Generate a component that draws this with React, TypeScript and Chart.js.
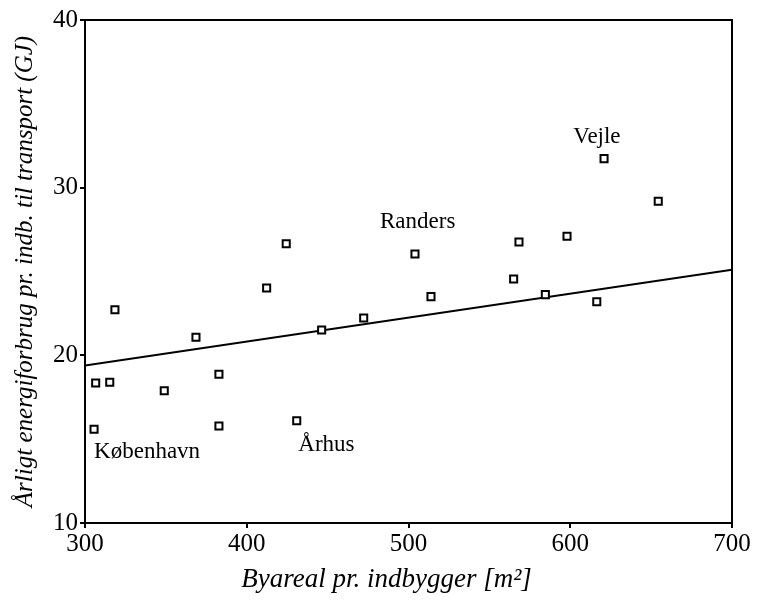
import React, { useEffect, useRef } from "react";
import { Chart, registerables } from "chart.js";

Chart.register(...registerables);

// Observations: byareal pr. indbygger (m²) vs. årligt energiforbrug (GJ)
const xValues = [306.6, 315.3, 318.5, 305.6, 349.0, 368.6, 382.8, 382.8, 412.3, 424.4, 430.9, 446.3, 472.3, 504.0, 513.9, 565.0, 568.3, 584.6, 598.0, 616.4, 620.9, 654.4];
const yValues = [18.35, 18.39, 22.72, 15.59, 17.89, 21.08, 18.87, 15.79, 24.02, 26.66, 16.10, 21.51, 22.23, 26.04, 23.50, 24.55, 26.76, 23.62, 27.10, 23.20, 31.73, 29.19];

// Regression line end points
const trendX = [300, 700];
const trendY = [19.4, 25.1];

// Axis ticks
const xTicks = [300, 400, 500, 600, 700];
const yTicks = [10, 20, 30, 40];

// City labels (anchored in data units: left edge, baseline)
const cityNames = ["København", "Århus", "Randers", "Vejle"];
const cityX = [305.6, 431.9, 482.4, 601.9];
const cityY = [13.88, 14.29, 27.6, 32.66];

const xTitle = "Byareal pr. indbygger [m²]";
const yTitle = "Årligt energiforbrug pr. indb. til transport (GJ)";

const FONT = "'Liberation Serif', 'Times New Roman', serif";

const framePlugin = {
  id: "frame",
  afterDatasetsDraw(chart: any) {
    const { ctx, chartArea } = chart;
    ctx.save();
    ctx.strokeStyle = "#000";
    ctx.lineWidth = 2;
    ctx.beginPath();
    ctx.moveTo(chartArea.left, chartArea.top);
    ctx.lineTo(chartArea.right, chartArea.top);
    ctx.lineTo(chartArea.right, chartArea.bottom);
    ctx.stroke();
    ctx.restore();
  },
};

const labelPlugin = {
  id: "cityLabels",
  afterDatasetsDraw(chart: any) {
    const { ctx, scales } = chart;
    ctx.save();
    ctx.fillStyle = "#000";
    ctx.font = `23px ${FONT}`;
    ctx.textAlign = "left";
    ctx.textBaseline = "alphabetic";
    cityNames.forEach((name, i) => {
      const px = scales.x.getPixelForValue(cityX[i]);
      const py = scales.y.getPixelForValue(cityY[i]);
      ctx.fillText(name, px, py);
    });
    ctx.restore();
  },
};

// x-axis title, centred slightly left of the plot centre as in the reference
const xTitlePlugin = {
  id: "xTitle",
  afterDraw(chart: any) {
    const { ctx, width, height } = chart;
    ctx.save();
    ctx.fillStyle = "#000";
    ctx.font = `italic 27px ${FONT}`;
    ctx.textAlign = "center";
    ctx.textBaseline = "middle";
    ctx.fillText(xTitle, width / 2 + 8, height - 21);
    ctx.restore();
  },
};

export default function App() {
  const canvasRef = useRef<HTMLCanvasElement | null>(null);

  useEffect(() => {
    const canvas = canvasRef.current;
    if (!canvas) return;
    const points = xValues.map((x, i) => ({ x, y: yValues[i] }));
    const trend = trendX.map((x, i) => ({ x, y: trendY[i] }));

    const chart = new Chart(canvas, {
      type: "scatter",
      data: {
        datasets: [
          {
            type: "line",
            data: trend,
            borderColor: "#000",
            borderWidth: 2,
            pointRadius: 0,
            fill: false,
            order: 2,
          } as any,
          {
            type: "scatter",
            data: points,
            pointStyle: "rect",
            pointRadius: 5,
            borderWidth: 2,
            borderColor: "#000",
            backgroundColor: "#fff",
            order: 1,
          } as any,
        ],
      },
      options: {
        responsive: false,
        animation: false,
        devicePixelRatio: 1,
        layout: { padding: { top: 20, right: 25, left: 0, bottom: 0 } },
        plugins: {
          legend: { display: false },
          tooltip: { enabled: false },
        },
        scales: {
          x: {
            type: "linear",
            min: 300,
            max: 700,
            afterBuildTicks: (scale: any) => {
              scale.ticks = xTicks.map((v) => ({ value: v }));
            },
            afterFit: (scale: any) => {
              scale.height = 78;
            },
            ticks: {
              color: "#000",
              font: { family: FONT, size: 25 },
              padding: 1,
              maxRotation: 0,
            },
            grid: {
              display: true,
              drawOnChartArea: false,
              drawTicks: true,
              tickLength: 5,
              color: "#000",
              lineWidth: 2,
            },
            border: { display: true, color: "#000", width: 2 },
            title: { display: false },
          },
          y: {
            type: "linear",
            min: 10,
            max: 40,
            afterBuildTicks: (scale: any) => {
              scale.ticks = yTicks.map((v) => ({ value: v }));
            },
            afterFit: (scale: any) => {
              scale.width = 85;
            },
            ticks: {
              color: "#000",
              font: { family: FONT, size: 25 },
              padding: 2,
            },
            grid: {
              display: true,
              drawOnChartArea: false,
              drawTicks: true,
              tickLength: 5,
              color: "#000",
              lineWidth: 2,
            },
            border: { display: true, color: "#000", width: 2 },
            title: {
              display: true,
              text: yTitle,
              color: "#000",
              font: { family: FONT, size: 25, style: "italic" },
              padding: { top: 10, bottom: 0 },
            },
          },
        },
      } as any,
      plugins: [framePlugin, labelPlugin, xTitlePlugin],
    });

    return () => chart.destroy();
  }, []);

  return (
    <div style={{ position: "fixed", left: 0, top: 0, width: 757, height: 601, background: "#fff" }}>
      <canvas ref={canvasRef} width={757} height={601} style={{ display: "block", width: 757, height: 601 }} />
    </div>
  );
}
